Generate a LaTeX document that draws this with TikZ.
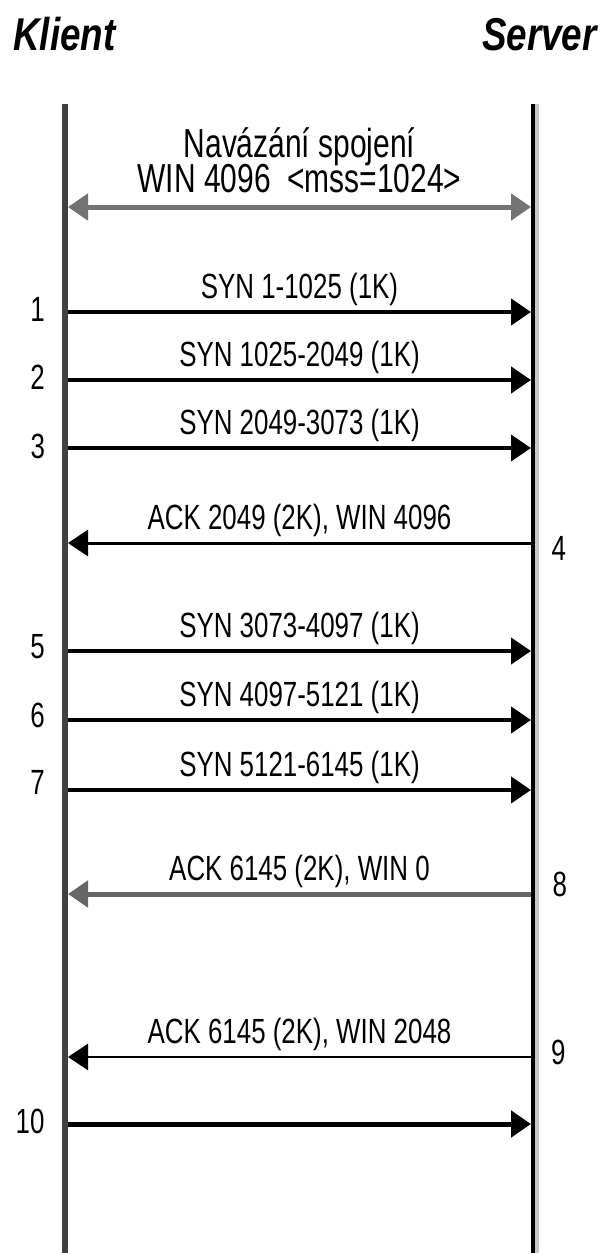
\documentclass[tikz,border=0pt]{standalone}
\usepackage{fontspec}
\setmainfont[FakeStretch=0.74]{Liberation Sans}
\newfontfamily\headfont[FakeStretch=0.8]{Liberation Sans}
\usetikzlibrary{arrows.meta}

\tikzset{
  head/.style={font=\headfont\bfseries\itshape\fontsize{23pt}{27pt}\selectfont, inner sep=0pt},
  hs/.style={font=\fontsize{20.25pt}{24pt}\selectfont, text=black, inner sep=0pt, anchor=base},
  lbl/.style={font=\fontsize{17.5pt}{21pt}\selectfont, text=black, inner sep=0pt, anchor=base, yshift=7pt},
  num/.style={font=\fontsize{17.5pt}{21pt}\selectfont, text=black, inner sep=0pt},
  syn/.style={->, line width=2.2pt},
  ack/.style={->, line width=1.5pt},
}

\begin{document}
\begin{tikzpicture}[x=0.5pt,y=-0.5pt,>={Triangle[length=10pt,width=13pt]}]
  \useasboundingbox (0,0) rectangle (601,1253);
  \node[head,anchor=base west] (klient) at (13,50) {Klient};
  \node[head,anchor=base east] (server) at (597,50) {Server};
  % casove osy
  \coordinate (ktop) at (65,104); \coordinate (kbot) at (65,1253);
  \coordinate (stop) at (533,104); \coordinate (sbot) at (533,1253);
  \draw[line width=3pt, black!75] (ktop) -- (kbot);
  \draw[line width=2pt, black!22] ([xshift=2pt]stop) -- ([xshift=2pt]sbot);
  \draw[line width=2pt] (stop) -- (sbot);
  \foreach \n/\y in {0/207,1/312,2/380,3/448,4/543,5/651,6/720,7/790,8/894,9/1057,10/1124}
    {\coordinate (k\n) at (68,\y); \coordinate (s\n) at (531,\y);}
  % navazani spojeni
  \draw[<->, line width=2.5pt, black!55] (k0) -- (s0)
    node[midway, hs, yshift=25pt] (t0a) {Navázání spojení}
    node[midway, hs, yshift=7.5pt] (t0b) {WIN 4096\ \ <mss=1024>};
  % segmenty
  \draw[syn] (k1) -- (s1) node[at start, num, left=10.5pt, yshift=1.5pt] (n1) {1} node[midway, lbl] (t1) {SYN 1-1025 (1K)};
  \draw[syn] (k2) -- (s2) node[at start, num, left=10.5pt, yshift=1.5pt] (n2) {2} node[midway, lbl] (t2) {SYN 1025-2049 (1K)};
  \draw[syn, line width=1.9pt] (k3) -- (s3) node[at start, num, left=10.5pt, yshift=1pt] (n3) {3} node[midway, lbl] (t3) {SYN 2049-3073 (1K)};
  \draw[ack] (s4) -- (k4) node[at start, num, right=9.5pt, yshift=-2.5pt] (n4) {4} node[midway, lbl] (t4) {ACK 2049 (2K), WIN 4096};
  \draw[syn] (k5) -- (s5) node[at start, num, left=10.5pt, yshift=2pt] (n5) {5} node[midway, lbl] (t5) {SYN 3073-4097 (1K)};
  \draw[syn] (k6) -- (s6) node[at start, num, left=10.5pt, yshift=2.5pt] (n6) {6} node[midway, lbl] (t6) {SYN 4097-5121 (1K)};
  \draw[syn] (k7) -- (s7) node[at start, num, left=10.5pt, yshift=4pt] (n7) {7} node[midway, lbl] (t7) {SYN 5121-6145 (1K)};
  \draw[ack, line width=2.5pt, black!60] (s8) -- (k8) node[at start, num, right=9.5pt, yshift=5pt] (n8) {8} node[midway, lbl] (t8) {ACK 6145 (2K), WIN 0};
  \draw[ack, line width=1.2pt] (s9) -- (k9) node[at start, num, right=9.5pt, yshift=2.5pt] (n9) {9} node[midway, lbl] (t9) {ACK 6145 (2K), WIN 2048};
  \draw[syn, line width=2.5pt] (k10) -- (s10) node[at start, num, left=10.5pt, yshift=1.5pt] (n10) {10};
\end{tikzpicture}
\end{document}
